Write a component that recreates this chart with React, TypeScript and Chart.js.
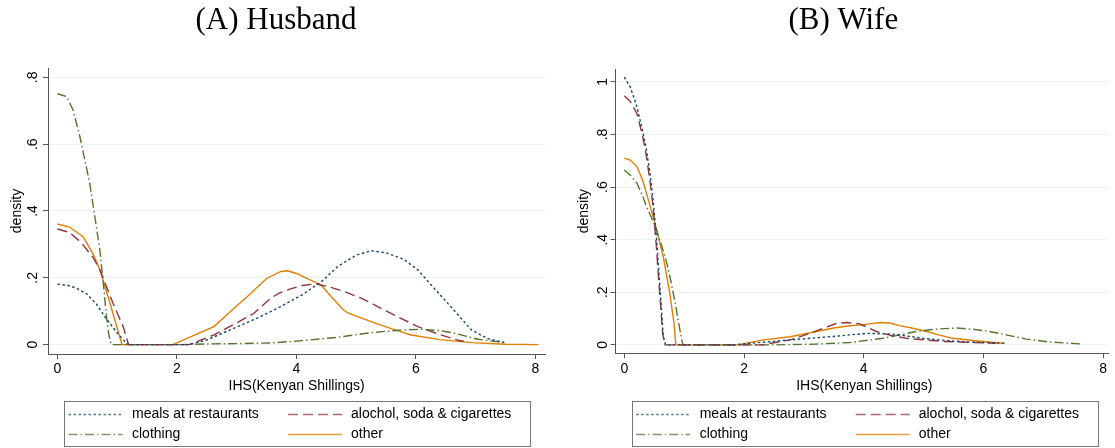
import React, { useEffect, useRef } from "react";
import { Chart, registerables } from "chart.js";

Chart.register(...registerables);

type Pt = [number, number];

// ---------- data ----------
const xTickValues = [0, 2, 4, 6, 8];
const husbandYTicks = [0, 0.2, 0.4, 0.6, 0.8];
const husbandYTickLabels = ["0", ".2", ".4", ".6", ".8"];
const wifeYTicks = [0, 0.2, 0.4, 0.6, 0.8, 1];
const wifeYTickLabels = ["0", ".2", ".4", ".6", ".8", "1"];

const seriesNames = ["meals at restaurants", "alochol, soda & cigarettes", "clothing", "other"];

const husbandMeals: Pt[] = [
  [0, 0.181], [0.16, 0.178], [0.32, 0.169], [0.49, 0.152], [0.65, 0.122], [0.8, 0.082],
  [1.0, 0.035], [1.18, 0], [2.2, 0], [2.5, 0.014], [2.95, 0.049], [3.4, 0.084],
  [3.74, 0.114], [4.1, 0.15], [4.41, 0.187], [4.7, 0.235], [5.0, 0.268], [5.25, 0.281],
  [5.5, 0.275], [5.8, 0.255], [6.03, 0.224], [6.25, 0.18], [6.48, 0.134], [6.7, 0.09],
  [6.93, 0.044], [7.2, 0.018], [7.48, 0.006],
];
const husbandAlcohol: Pt[] = [
  [0, 0.346], [0.2, 0.336], [0.4, 0.305], [0.6, 0.26], [0.71, 0.224], [0.93, 0.124],
  [1.1, 0.054], [1.19, 0], [2.2, 0], [2.62, 0.029], [3.0, 0.065], [3.29, 0.094],
  [3.57, 0.139], [3.71, 0.154], [3.9, 0.167], [4.1, 0.177], [4.32, 0.182], [4.55, 0.173],
  [4.8, 0.159], [5.1, 0.138], [5.36, 0.114], [5.7, 0.083], [6.03, 0.054], [6.4, 0.03],
  [6.71, 0.013], [6.8, 0.01],
];
const husbandClothing: Pt[] = [
  [0, 0.751], [0.15, 0.743], [0.26, 0.703], [0.375, 0.623], [0.45, 0.56], [0.54, 0.483],
  [0.62, 0.39], [0.71, 0.283], [0.77, 0.18], [0.82, 0.084], [0.86, 0.03], [0.9, 0],
  [2.0, 0], [2.5, 0.002], [3.0, 0.003], [3.57, 0.005], [4.1, 0.012], [4.69, 0.022],
  [5.25, 0.036], [5.7, 0.043], [6.09, 0.046], [6.4, 0.042], [6.65, 0.034], [7.04, 0.016],
  [7.3, 0.01], [7.49, 0.007],
];
const husbandOther: Pt[] = [
  [0, 0.361], [0.2, 0.352], [0.43, 0.323], [0.6, 0.27], [0.71, 0.224], [0.88, 0.124],
  [1.0, 0.05], [1.08, 0], [1.93, 0], [2.62, 0.054], [2.9, 0.1], [3.18, 0.144],
  [3.5, 0.198], [3.74, 0.219], [3.85, 0.221], [4.0, 0.213], [4.13, 0.202], [4.41, 0.179],
  [4.58, 0.144], [4.78, 0.105], [4.87, 0.094], [5.25, 0.069], [5.6, 0.047], [5.92, 0.029],
  [6.4, 0.015], [6.93, 0.006], [7.5, 0.001], [8.05, 0],
];

const wifeMeals: Pt[] = [
  [0, 1.018], [0.1, 0.98], [0.21, 0.906], [0.3, 0.82], [0.37, 0.741], [0.43, 0.65],
  [0.48, 0.551], [0.53, 0.43], [0.57, 0.298], [0.61, 0.17], [0.65, 0.032], [0.69, 0],
  [1.8, 0], [2.1, 0.006], [2.77, 0.019], [3.49, 0.032], [4.05, 0.044], [4.49, 0.041],
  [4.99, 0.025], [5.35, 0.017], [5.72, 0.011], [6.38, 0.006],
];
const wifeAlcohol: Pt[] = [
  [0, 0.947], [0.1, 0.925], [0.21, 0.88], [0.3, 0.8], [0.37, 0.716], [0.43, 0.62],
  [0.48, 0.526], [0.53, 0.39], [0.57, 0.26], [0.61, 0.14], [0.64, 0.044], [0.68, 0],
  [2.3, 0], [2.77, 0.019], [3.05, 0.04], [3.32, 0.063], [3.55, 0.082], [3.71, 0.085],
  [3.93, 0.08], [4.05, 0.068], [4.21, 0.051], [4.45, 0.036], [4.71, 0.025], [5.33, 0.013],
  [6.21, 0.006],
];
const wifeClothing: Pt[] = [
  [0, 0.665], [0.1, 0.645], [0.21, 0.615], [0.3, 0.57], [0.37, 0.526], [0.45, 0.485],
  [0.54, 0.437], [0.62, 0.38], [0.71, 0.311], [0.78, 0.24], [0.85, 0.159], [0.91, 0.08],
  [0.96, 0.019], [0.98, 0], [2.5, 0], [3.2, 0.003], [3.77, 0.009], [4.32, 0.025],
  [4.88, 0.051], [5.2, 0.06], [5.55, 0.064], [5.8, 0.06], [6.1, 0.051], [6.4, 0.037],
  [6.72, 0.022], [7.1, 0.011], [7.61, 0.004],
];
const wifeOther: Pt[] = [
  [0, 0.71], [0.1, 0.703], [0.21, 0.678], [0.3, 0.63], [0.37, 0.577], [0.44, 0.52],
  [0.51, 0.463], [0.58, 0.4], [0.65, 0.336], [0.71, 0.26], [0.76, 0.197], [0.8, 0.13],
  [0.83, 0.083], [0.86, 0], [1.9, 0], [2.32, 0.019], [2.77, 0.031], [3.21, 0.051],
  [3.5, 0.064], [3.77, 0.073], [4.0, 0.077], [4.27, 0.085], [4.45, 0.082], [4.6, 0.073],
  [4.8, 0.064], [5.05, 0.051], [5.25, 0.038], [5.49, 0.025], [5.99, 0.013], [6.33, 0.006],
];

// ---------- styles ----------
const SANS = '"Liberation Sans", Arial, Helvetica, sans-serif';
const SERIF = '"Liberation Serif", "Times New Roman", serif';
const AXIS = "#555555";
const GRID = "#eaf2f3";
const seriesColors = ["#1a476f", "#90353b", "#55752f", "#e37e00"];
const seriesDashes = [[2.5, 2.5], [10, 5], [9, 3, 1.5, 3], []];
const H = 448;
const X_AXIS_H = 30;

type PanelCfg = {
  title: string;
  canvasLeft: number;
  width: number;
  area: { left: number; right: number; top: number; bottom: number };
  xMin: number; xMax: number; yMin: number; yMax: number;
  yTicks: number[]; yTickLabels: string[];
  series: Pt[][];
  titleX: number; titleY: number;
  yTitleX: number; yTickBaseX: number;
  xTitleX: number; xTitleY: number;
  legend: { x: number; y: number; w: number; h: number };
};

const panels: PanelCfg[] = [
  {
    title: "(A) Husband",
    canvasLeft: 0, width: 560,
    area: { left: 48, right: 545, top: 68, bottom: 354 },
    xMin: -0.158, xMax: 8.16, yMin: -0.028, yMax: 0.828,
    yTicks: husbandYTicks, yTickLabels: husbandYTickLabels,
    series: [husbandMeals, husbandAlcohol, husbandClothing, husbandOther],
    titleX: 276, titleY: 28.5,
    yTitleX: 17, yTickBaseX: 36.7,
    xTitleX: 296.7, xTitleY: 386,
    legend: { x: 64, y: 401, w: 466, h: 46 },
  },
  {
    title: "(B) Wife",
    canvasLeft: 560, width: 555,
    area: { left: 55.7, right: 548, top: 69, bottom: 353.3 },
    xMin: -0.144, xMax: 8.08, yMin: -0.032, yMax: 1.049,
    yTicks: wifeYTicks, yTickLabels: wifeYTickLabels,
    series: [wifeMeals, wifeAlcohol, wifeClothing, wifeOther],
    titleX: 283.3, titleY: 28.5,
    yTitleX: 24, yTickBaseX: 46.7,
    xTitleX: 304.3, xTitleY: 386,
    legend: { x: 71.7, y: 401, w: 465.6, h: 46 },
  },
];

function makeDecor(cfg: PanelCfg) {
  return {
    id: "stataDecor",
    afterDraw(chart: any) {
      const ctx: CanvasRenderingContext2D = chart.ctx;
      const ys = chart.scales.y;
      const area = chart.chartArea;
      ctx.save();
      ctx.fillStyle = "#000";

      // y tick labels (rotated)
      ctx.font = `14px ${SANS}`;
      ctx.textAlign = "center";
      ctx.textBaseline = "alphabetic";
      cfg.yTicks.forEach((v, i) => {
        const py = ys.getPixelForValue(v);
        ctx.save();
        ctx.translate(cfg.yTickBaseX, py);
        ctx.rotate(-Math.PI / 2);
        ctx.fillText(cfg.yTickLabels[i], 0, 0);
        ctx.restore();
      });

      // y title
      ctx.save();
      ctx.translate(cfg.yTitleX, (area.top + area.bottom) / 2);
      ctx.rotate(-Math.PI / 2);
      ctx.textBaseline = "middle";
      ctx.fillText("density", 0, 0);
      ctx.restore();

      // x title
      ctx.textBaseline = "middle";
      ctx.fillText("IHS(Kenyan Shillings)", cfg.xTitleX, cfg.xTitleY);

      // panel title
      ctx.font = `31px ${SERIF}`;
      ctx.textBaseline = "alphabetic";
      ctx.fillText(cfg.title, cfg.titleX, cfg.titleY);

      // legend
      const lg = cfg.legend;
      ctx.strokeStyle = "#777";
      ctx.lineWidth = 1;
      ctx.setLineDash([]);
      ctx.strokeRect(Math.round(lg.x) + 0.5, Math.round(lg.y) + 0.5, Math.round(lg.w), Math.round(lg.h) - 1);
      ctx.font = `14px ${SANS}`;
      ctx.textAlign = "left";
      ctx.textBaseline = "middle";
      seriesNames.forEach((name, i) => {
        const col = i % 2;
        const row = Math.floor(i / 2);
        const cy = lg.y + 13.5 + row * 20;
        const sx = lg.x + (col === 0 ? 4.5 : 224);
        ctx.save();
        ctx.strokeStyle = seriesColors[i];
        ctx.globalAlpha = 0.75;
        ctx.lineWidth = 1.4;
        ctx.setLineDash(seriesDashes[i]);
        ctx.beginPath();
        ctx.moveTo(sx, cy);
        ctx.lineTo(sx + 54, cy);
        ctx.stroke();
        ctx.restore();
        ctx.fillText(name, lg.x + (col === 0 ? 68 : 287), cy);
      });
      ctx.restore();
    },
  };
}

function Panel({ cfg }: { cfg: PanelCfg }) {
  const ref = useRef<HTMLCanvasElement>(null);
  useEffect(() => {
    const canvas = ref.current;
    if (!canvas) return;
    const chart = new Chart(canvas, {
      type: "line",
      data: {
        datasets: cfg.series.map((s, i) => ({
          label: seriesNames[i],
          data: s.map(([x, y]) => ({ x, y })),
          borderColor: seriesColors[i],
          borderDash: seriesDashes[i],
          borderWidth: 1.4,
          pointRadius: 0,
          fill: false,
          tension: 0,
        })),
      },
      options: {
        responsive: false,
        maintainAspectRatio: false,
        animation: false,
        events: [],
        layout: {
          padding: {
            left: 0,
            top: cfg.area.top,
            right: cfg.width - cfg.area.right,
            bottom: H - cfg.area.bottom - X_AXIS_H,
          },
        },
        plugins: {
          legend: { display: false },
          tooltip: { enabled: false },
          title: { display: false },
        },
        scales: {
          x: {
            type: "linear",
            min: cfg.xMin,
            max: cfg.xMax,
            afterBuildTicks: (s: any) => {
              s.ticks = xTickValues.map((v) => ({ value: v }));
            },
            afterFit: (s: any) => {
              s.height = X_AXIS_H;
            },
            ticks: {
              font: { family: SANS, size: 14 },
              color: "#000",
              padding: 2,
              maxRotation: 0,
              autoSkip: false,
              callback: (v: any) => String(v),
            },
            grid: {
              drawOnChartArea: false,
              drawTicks: true,
              tickLength: 5,
              tickColor: AXIS,
              lineWidth: 1,
            },
            border: { display: true, color: AXIS, width: 1 },
          },
          y: {
            type: "linear",
            min: cfg.yMin,
            max: cfg.yMax,
            afterBuildTicks: (s: any) => {
              s.ticks = cfg.yTicks.map((v) => ({ value: v }));
            },
            afterFit: (s: any) => {
              s.width = cfg.area.left;
            },
            ticks: { display: false },
            grid: {
              color: GRID,
              lineWidth: 1,
              drawTicks: true,
              tickLength: 5,
              tickColor: AXIS,
            },
            border: { display: true, color: AXIS, width: 1 },
          },
        },
      },
      plugins: [makeDecor(cfg)],
    } as any);
    return () => chart.destroy();
  }, [cfg]);
  return (
    <canvas
      ref={ref}
      width={cfg.width}
      height={H}
      style={{ position: "absolute", left: cfg.canvasLeft, top: 0, width: cfg.width, height: H, display: "block" }}
    />
  );
}

export default function App() {
  return (
    <div style={{ position: "absolute", left: 0, top: 0, width: 1115, height: H, background: "#fff", overflow: "hidden" }}>
      {panels.map((p) => (
        <Panel key={p.title} cfg={p} />
      ))}
    </div>
  );
}
